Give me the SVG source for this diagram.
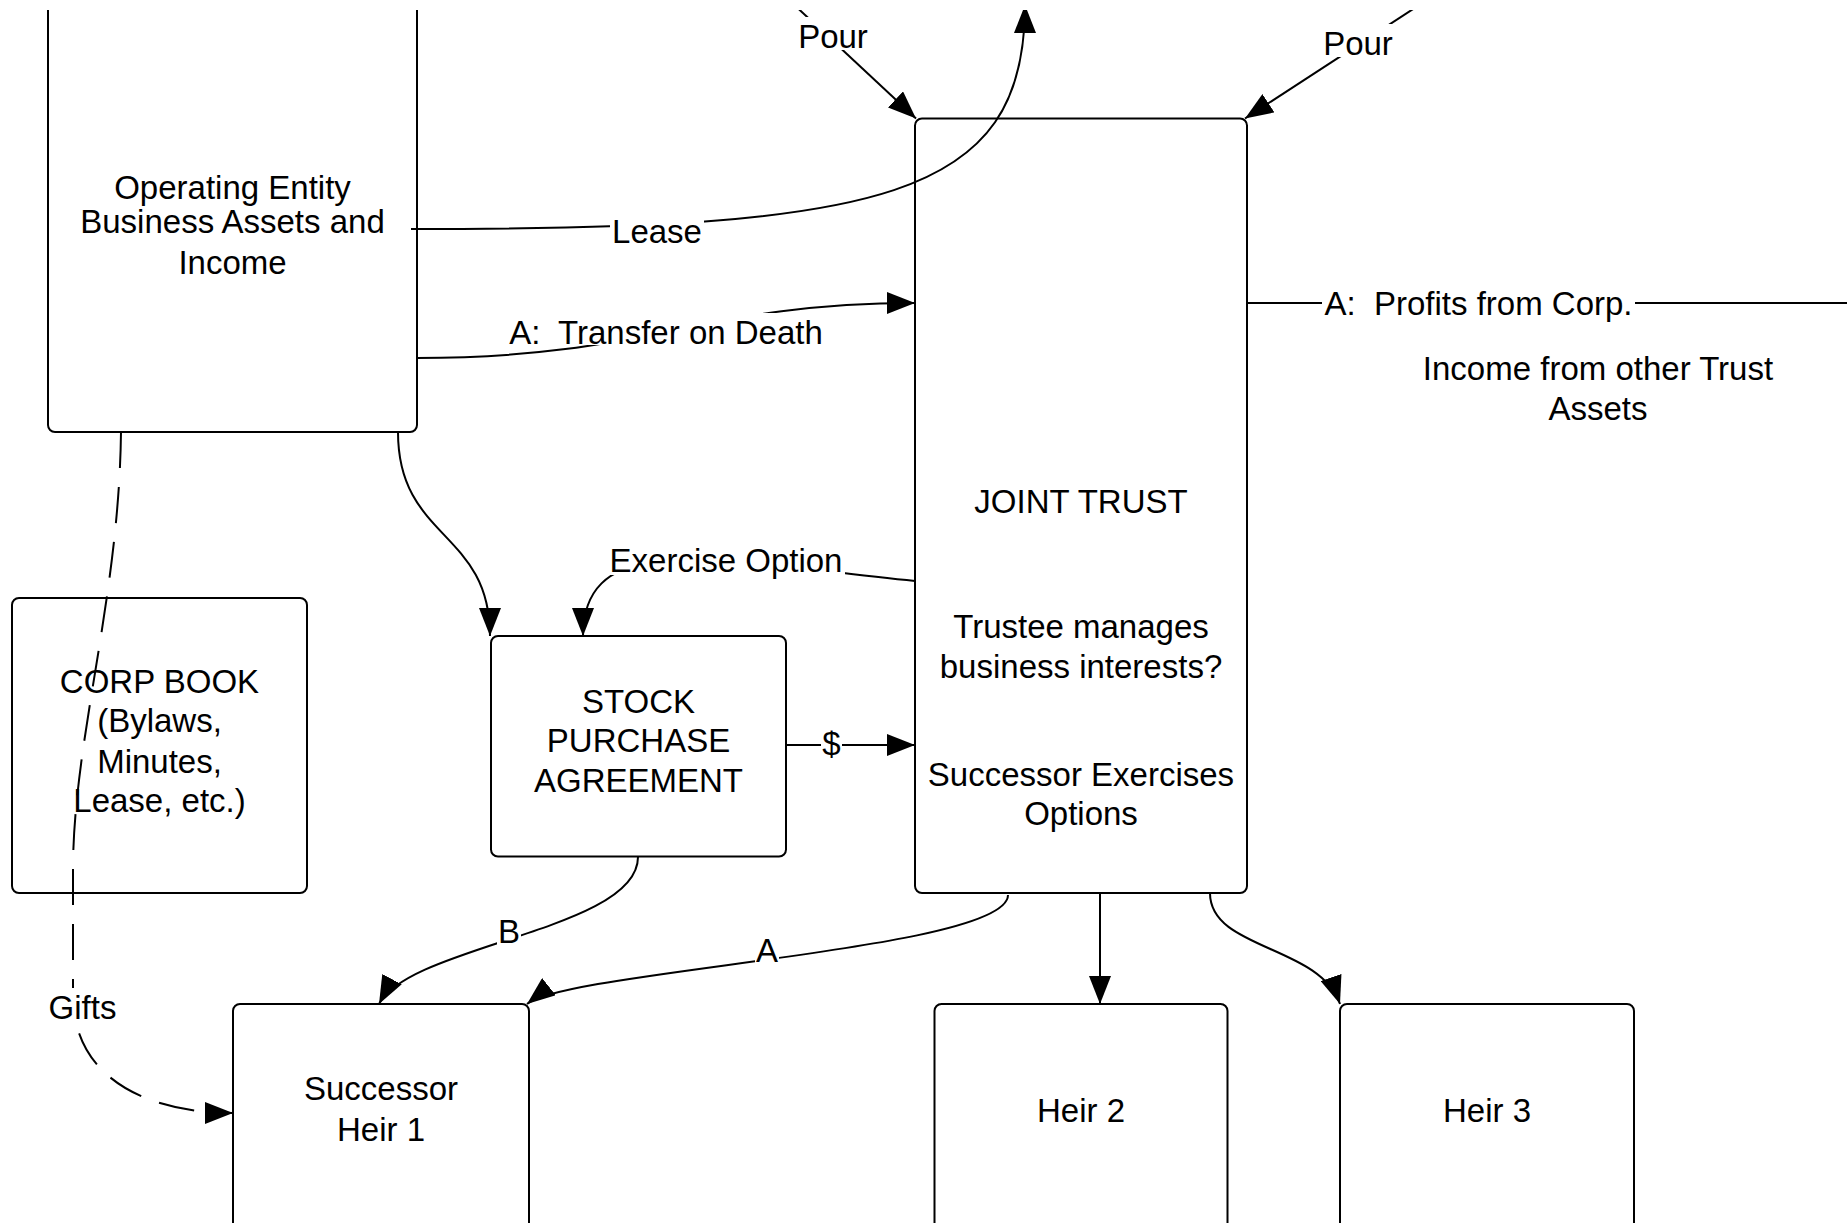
<svg xmlns="http://www.w3.org/2000/svg" width="1847" height="1223" viewBox="0 0 1847 1223">
  <defs>
    <style>
      .box{fill:#fff;stroke:#000;stroke-width:2}
      .t{font-family:"Liberation Sans",Arial,Helvetica,sans-serif;font-size:33px;fill:#000;text-anchor:middle}
      .c{fill:none;stroke:#000;stroke-width:2}
      .arr{marker-end:url(#head)}
      .dash{stroke-dasharray:36 19}
      .bg{fill:#fff}
    </style>
    <marker id="head" markerUnits="userSpaceOnUse" markerWidth="28" markerHeight="22" refX="28" refY="11" orient="auto">
      <path d="M0,0 L28,11 L0,22 Z" fill="#000"/>
    </marker>
    <clipPath id="frame">
      <rect x="0" y="10" width="1847" height="1213"/>
    </clipPath>
  </defs>

  <rect width="1847" height="1223" fill="#fff"/>

  <g clip-path="url(#frame)">
    <!-- Nodes -->
    <g id="operating-entity">
      <rect class="box" x="48" y="-60" width="369" height="492" rx="7"/>
      <text class="t" x="232.5" y="199">Operating Entity</text>
      <text class="t" x="232.5" y="233">Business Assets and</text>
      <text class="t" x="232.5" y="274">Income</text>
    </g>

    <g id="corp-book">
      <rect class="box" x="12" y="598" width="295" height="295" rx="7"/>
      <text class="t" x="159.5" y="693">CORP BOOK</text>
      <text class="t" x="159.5" y="732">(Bylaws,</text>
      <text class="t" x="159.5" y="773">Minutes,</text>
      <text class="t" x="159.5" y="812">Lease, etc.)</text>
    </g>

    <g id="stock-purchase-agreement">
      <rect class="box" x="491" y="636" width="295" height="220.5" rx="7"/>
      <text class="t" x="638.5" y="713">STOCK</text>
      <text class="t" x="638.5" y="752">PURCHASE</text>
      <text class="t" x="638.5" y="792">AGREEMENT</text>
    </g>

    <g id="joint-trust">
      <rect class="box" x="915" y="118.5" width="332" height="774.5" rx="7"/>
      <text class="t" x="1081" y="512.5">JOINT TRUST</text>
      <text class="t" x="1081" y="638">Trustee manages</text>
      <text class="t" x="1081" y="678">business interests?</text>
      <text class="t" x="1081" y="786">Successor Exercises</text>
      <text class="t" x="1081" y="825">Options</text>
    </g>

    <g id="successor-heir-1">
      <rect class="box" x="233" y="1004" width="296" height="260" rx="7"/>
      <text class="t" x="381" y="1100">Successor</text>
      <text class="t" x="381" y="1141">Heir 1</text>
    </g>

    <g id="heir-2">
      <rect class="box" x="934.5" y="1004" width="293" height="260" rx="7"/>
      <text class="t" x="1081" y="1122">Heir 2</text>
    </g>

    <g id="heir-3">
      <rect class="box" x="1340" y="1004" width="294" height="260" rx="7"/>
      <text class="t" x="1487" y="1122">Heir 3</text>
    </g>

    <g id="other-income-note">
      <text class="t" x="1598" y="380">Income from other Trust</text>
      <text class="t" x="1598" y="420">Assets</text>
    </g>

    <!-- Connectors -->
    <g id="connectors">
      <!-- incoming pour-over arrows -->
      <path class="c arr" d="M789,0 L916,118.5"/>
      <path class="c arr" d="M1427,0 L1245,118.5"/>

      <!-- lease -->
      <path class="c arr" d="M411,229 C880,229 1025,200 1025,5"/>

      <!-- transfer on death -->
      <path class="c arr" d="M417,358 C650,358 700,303 915,303"/>

      <!-- operating entity to stock purchase agreement -->
      <path class="c arr" d="M398,432 C398,540 490,530 490,636"/>

      <!-- exercise option -->
      <path class="c arr" d="M915,581 C740,565 583,520 583,636"/>

      <!-- payment -->
      <path class="c arr" d="M786,745 L915,745"/>

      <!-- B: agreement to successor -->
      <path class="c arr" d="M638,857 C638,930 410,945 379,1004"/>

      <!-- A: trust to successor -->
      <path class="c arr" d="M1008,895 C1008,950 570,970 527,1004"/>

      <!-- trust to heirs -->
      <path class="c arr" d="M1100,893 L1100,1004"/>
      <path class="c arr" d="M1210,893 C1210,950 1320,945 1340,1004"/>

      <!-- profits out of the trust -->
      <path class="c" d="M1247,303 L1860,303"/>

      <!-- gifts -->
      <path class="c dash arr" d="M121,432 C119,600 73,740 73,870 L73,995 C73,1080 150,1113 233,1113"/>

      <!-- connector labels -->
      <g id="label-pour-left">
        <rect class="bg" x="797" y="17" width="72" height="33"/>
        <text class="t" x="833" y="48.3">Pour</text>
      </g>
      <g id="label-pour-right">
        <rect class="bg" x="1322" y="24" width="72" height="33"/>
        <text class="t" x="1358" y="55">Pour</text>
      </g>
      <g id="label-lease">
        <rect class="bg" x="610" y="212" width="94" height="33"/>
        <text class="t" x="657" y="243">Lease</text>
      </g>
      <g id="label-transfer">
        <rect class="bg" x="507" y="313" width="318" height="32"/>
        <text class="t" x="666" y="343.5" xml:space="preserve">A:  Transfer on Death</text>
      </g>
      <g id="label-exercise">
        <rect class="bg" x="607" y="541" width="238" height="34"/>
        <text class="t" x="726" y="572">Exercise Option</text>
      </g>
      <g id="label-payment">
        <rect class="bg" x="821" y="724" width="21" height="33"/>
        <text class="t" x="831.5" y="755">$</text>
      </g>
      <g id="label-b">
        <rect class="bg" x="497" y="912" width="24" height="33"/>
        <text class="t" x="509" y="943">B</text>
      </g>
      <g id="label-a">
        <rect class="bg" x="755" y="931" width="24" height="33"/>
        <text class="t" x="767" y="961.5">A</text>
      </g>
      <g id="label-gifts">
        <rect class="bg" x="47" y="988" width="71" height="33"/>
        <text class="t" x="82.5" y="1019">Gifts</text>
      </g>
      <g id="label-profits">
        <rect class="bg" x="1322" y="284" width="313" height="33"/>
        <text class="t" x="1478.5" y="315" xml:space="preserve">A:  Profits from Corp.</text>
      </g>
    </g>
  </g>
</svg>
